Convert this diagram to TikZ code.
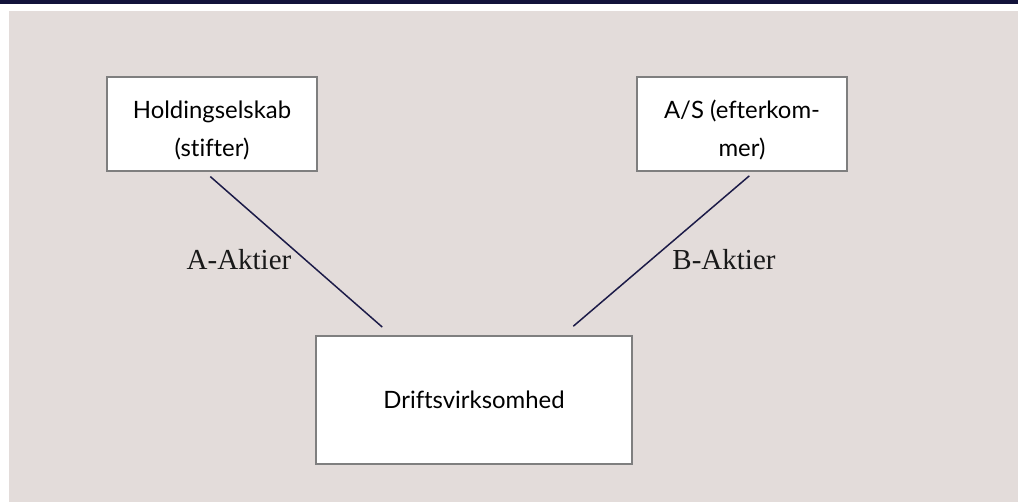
\documentclass[tikz,border=0pt]{standalone}
\usepackage{fontspec}
\setmainfont{Liberation Serif}
\setsansfont{Lato}[Ligatures=NoCommon]
\usetikzlibrary{calc}

\definecolor{navybar}{HTML}{12123A}
\definecolor{bggray}{HTML}{E3DCDA}
\definecolor{edgegray}{HTML}{7F7F7F}
\definecolor{linknavy}{HTML}{1C1B48}

\newcommand{\toppad}{\rule{0pt}{17pt}}

\begin{document}
\begin{tikzpicture}[x=0.02cm, y=-0.02cm,
    company/.style={draw=edgegray, line width=1.1pt, fill=white, align=center,
        inner sep=0pt, font=\sffamily\fontsize{13.6}{21.8}\selectfont},
    share/.style={draw=linknavy, line width=0.85pt},
    sharelabel/.style={font=\fontsize{16.5}{20}\selectfont, text=black!90, inner sep=0pt}]

\useasboundingbox (0,0) rectangle (1018,502);

% =========================================================
%  Background: top bar and panel
% =========================================================
\fill[navybar] (0,0) rectangle (1018,4);
\fill[bggray] (9,11) rectangle (1018,502);

% =========================================================
%  Companies
% =========================================================
\node[company, minimum width=4.2cm, minimum height=1.88cm] (hold) at (212,124)
    {\toppad Holdingselskab\\(stifter)};
\node[company, minimum width=4.2cm, minimum height=1.88cm] (as) at (742,124)
    {\toppad A/S (efterkom-\\mer)};
\node[company, minimum width=6.32cm, minimum height=2.56cm] (drift) at (474,400)
    {Driftsvirksomhed};

% --- Share links ---
\draw[share, shorten <=4pt, shorten >=6.9pt]
    ($(hold.south west)!0.467!(hold.south east)$)
    -- ($(drift.north west)!0.24!(drift.north east)$);
\draw[share, shorten <=3.4pt, shorten >=7.7pt]
    ($(as.south west)!0.556!(as.south east)$)
    -- ($(drift.north west)!0.78!(drift.north east)$);

% Labels
\node[sharelabel, anchor=base] (lblA) at (239,270) {A-Aktier};
\node[sharelabel, anchor=base] (lblB) at (724,270) {B-Aktier};

\end{tikzpicture}
\end{document}
